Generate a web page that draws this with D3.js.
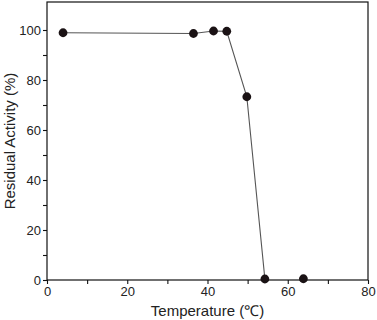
<!DOCTYPE html>
<html>
<head>
<meta charset="utf-8">
<script src="https://cdn.jsdelivr.net/npm/d3@7"></script>
<style>
  body { margin: 0; background: #fff; }
  svg { display: block; font-family: "Liberation Sans", Arial, sans-serif; }
</style>
</head>
<body>
<div id="chart"></div>
<script>
// temperature (°C) vs residual activity (%)
const temps = [4, 36.5, 41.5, 44.8, 49.8, 54.3, 63.9];
const activity = [98.9, 98.6, 99.6, 99.5, 73.3, 0.4, 0.5];
const xTicks = [0, 20, 40, 60, 80];
const yTicks = [0, 20, 40, 60, 80, 100];

const width = 377, height = 320;
const margin = { top: 2, right: 9, bottom: 40, left: 47 };

const svg = d3.select("#chart")
  .append("svg")
  .attr("width", width)
  .attr("height", height);

const x = d3.scaleLinear().domain([0, 80]).range([margin.left, width - margin.right]);
const y = d3.scaleLinear().domain([0, 111.2]).range([height - margin.bottom, margin.top]);

// frame
svg.append("rect")
  .attr("x", margin.left)
  .attr("y", margin.top)
  .attr("width", x(80) - margin.left)
  .attr("height", y(0) - margin.top)
  .attr("fill", "none")
  .attr("stroke", "#111")
  .attr("stroke-width", 1.2);

// ticks every 10, labels every 20
const xAxis = svg.append("g")
  .attr("transform", `translate(0,${y(0)})`)
  .call(d3.axisBottom(x).tickValues(d3.range(0, 81, 10)).tickSize(4).tickFormat(d => xTicks.includes(d) ? d : ""));
const yAxis = svg.append("g")
  .attr("transform", `translate(${margin.left},0)`)
  .call(d3.axisLeft(y).tickValues(d3.range(0, 101, 10)).tickSize(4).tickFormat(d => yTicks.includes(d) ? d : ""));

[xAxis, yAxis].forEach(g => {
  g.select(".domain").remove();
  g.selectAll("line").attr("stroke", "#111").attr("stroke-width", 1.1);
  g.selectAll("text").attr("fill", "#222").style("font-size", "13px")
    .style("font-family", "'Liberation Sans', Arial, sans-serif");
});
xAxis.selectAll("text").attr("dy", "0.95em").attr("y", 4);
yAxis.selectAll("text").attr("x", -6);

// line + points
const pts = temps.map((t, i) => [t, activity[i]]);
svg.append("path")
  .datum(pts.slice(0, 6))
  .attr("fill", "none")
  .attr("stroke", "#555")
  .attr("stroke-width", 1.1)
  .attr("d", d3.line().x(d => x(d[0])).y(d => y(d[1])));

svg.append("g")
  .selectAll("circle")
  .data(pts)
  .join("circle")
  .attr("cx", d => x(d[0]))
  .attr("cy", d => y(d[1]))
  .attr("r", 4.4)
  .attr("fill", "#1a1214");

// axis titles
svg.append("text")
  .attr("x", (margin.left + x(80)) / 2)
  .attr("y", 316)
  .attr("text-anchor", "middle")
  .attr("fill", "#222")
  .style("font-size", "15px")
  .text("Temperature (℃)");

svg.append("text")
  .attr("transform", `translate(15,${(margin.top + y(0)) / 2}) rotate(-90)`)
  .attr("text-anchor", "middle")
  .attr("fill", "#222")
  .style("font-size", "15px")
  .text("Residual Activity (%)");
</script>
</body>
</html>
